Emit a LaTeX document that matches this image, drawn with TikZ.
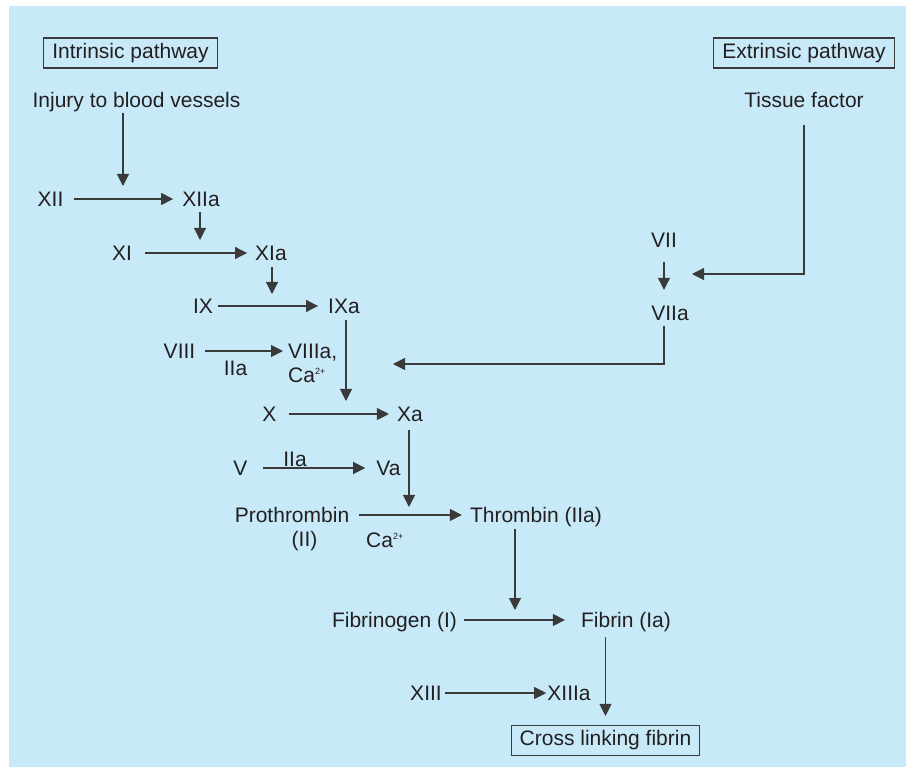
\documentclass[tikz,border=0pt]{standalone}
\usepackage{fontspec}
\setmainfont{Liberation Sans}
\usetikzlibrary{arrows.meta}

\definecolor{bgblue}{HTML}{C7E9F8}
\definecolor{ink}{HTML}{231F20}
\definecolor{wire}{HTML}{3A3A3A}

% Ca with a small raised charge
\newcommand{\catwo}{Ca\raisebox{8pt}{\fontsize{9}{9}\selectfont 2+}}

\begin{document}
\begin{tikzpicture}[x=1pt,y=-1pt,
	every node/.style={font=\fontsize{21}{25}\selectfont, text=ink, inner sep=0pt, text height=15pt, text depth=0pt},
	pathbox/.style={draw=wire, line width=1.1pt, inner xsep=8.5pt, inner ysep=5.25pt, text depth=4.5pt},
	arr/.style={draw=wire, line width=1.1pt, -{Triangle[length=12pt,width=12pt]}}]
	\fill[bgblue] (9,6) rectangle (906,767);
	\useasboundingbox (0,0) rectangle (906,767);

	% headings
	\node[pathbox] (intr) at (130.5,53) {Intrinsic pathway};
	\node[pathbox] (extr) at (804,53) {Extrinsic pathway};
	\node (injury) at (136.5,100) {Injury to blood vessels};
	\node (tissue) at (804,100) {Tissue factor};

	% intrinsic cascade
	\node (xii) at (50.5,199) {XII};
	\node (xiia) at (201,199) {XIIa};
	\node (xi) at (122,253) {XI};
	\node (xia) at (271,253) {XIa};
	\node (ix) at (203,306) {IX};
	\node (ixa) at (344,306) {IXa};
	\node (viii) at (179.5,351) {VIII};
	\node[anchor=west] (viiia) at (288,351) {VIIIa,};
	\node[anchor=west] (ca1) at (288,375) {\catwo};
	\node (iia1) at (235.5,368) {IIa};

	% extrinsic side
	\node (vii) at (664,240) {VII};
	\node (viia) at (670,313) {VIIa};

	% common pathway
	\node (x) at (269.5,414) {X};
	\node (xa) at (410,414) {Xa};
	\node (v) at (240.5,468) {V};
	\node (va) at (388.5,468) {Va};
	\node (iia2) at (295,459) {IIa};
	\node (prothr) at (292,515) {Prothrombin};
	\node (ii) at (304.5,539) {(II)};
	\node[anchor=west] (ca2) at (366,540) {\catwo};
	\node (thr) at (536,515) {Thrombin (IIa)};
	\node (fbg) at (394.5,620) {Fibrinogen (I)};
	\node (fib) at (626,620) {Fibrin (Ia)};
	\node (xiii) at (426,693) {XIII};
	\node (xiiia) at (569,693) {XIIIa};
	\node[pathbox] (cross) at (605.5,740.5) {Cross linking fibrin};

	% activation steps
	\foreach \a/\b/\s/\e in {xii/xiia/10/9, xi/xia/13/8, ix/ixa/5/10, viii/viiia/10/5, x/xa/12/8, v/va/15/11, prothr/thr/10/8, fbg/fib/7/16, xiii/xiiia/3/1}
		\draw[arr, shorten <=\s pt, shorten >=\e pt] (\a.east) -- (\a.east -| \b.west);

	% feeding arrows
	\coordinate (t1) at (123,186);
	\coordinate (t2) at (200,240);
	\coordinate (t3) at (272,294);
	\coordinate (t4) at (346,401);
	\coordinate (t5) at (409,507);
	\coordinate (t6) at (515,610);
	\coordinate (t8) at (692,274);
	\coordinate (t9) at (393,364);
	\draw[arr, shorten <=5.5pt] (injury.south -| t1) -- (t1);
	\draw[arr, shorten <=5.5pt] (xiia.south -| t2) -- (t2);
	\draw[arr, shorten <=6.5pt] (xia.south -| t3) -- (t3);
	\draw[arr, shorten <=6.5pt] (ixa.south -| t4) -- (t4);
	\draw[arr, shorten <=8.5pt] (xa.south -| t5) -- (t5);
	\draw[arr, shorten <=6.5pt] (thr.south -| t6) -- (t6);
	\draw[arr, shorten <=9.5pt, shorten >=9pt] (cross.north |- fib.south) -- (cross.north);
	\draw[arr, shorten <=14.5pt, shorten >=15.5pt] (vii.south) -- (vii.south |- viia.north);
	\draw[arr, shorten <=17.5pt] (tissue.south) |- (t8);
	\draw[arr, shorten <=5.5pt] (vii.south |- viia.south) |- (t9);
\end{tikzpicture}
\end{document}
